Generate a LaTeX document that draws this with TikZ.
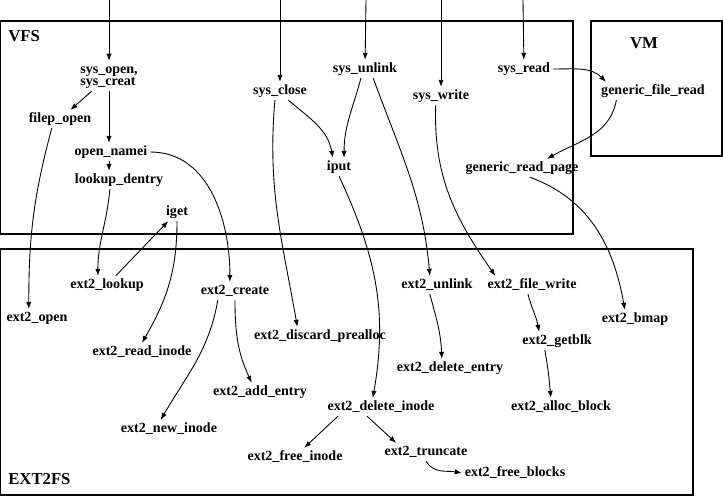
\documentclass[tikz,border=0pt]{standalone}
\usepackage{fontspec}
\setmainfont{Liberation Serif}
\usetikzlibrary{arrows.meta}

\begin{document}
\begin{tikzpicture}[x=0.02cm, y=-0.02cm,
  fn/.style={font=\bfseries\fontsize{8}{7}\selectfont, inner sep=1.5pt, text height=5.5pt, text depth=1.5pt},
  area/.style={font=\bfseries\fontsize{9.5}{11}\selectfont, inner sep=0pt},
  frame/.style={line width=0.6pt},
  call/.style={-{Latex[length=4pt,width=3pt]}, line width=0.5pt}]
\useasboundingbox (0,0) rectangle (723,496);
% subsystem frames
\draw[frame] (0.5,21) rectangle (573,234);
\draw[frame] (591,21) rectangle (722,156);
\draw[frame] (0.5,249) rectangle (693,495);
\node[area, anchor=west] (vfs) at (8,36) {VFS};
\node[area] (vm) at (644,43) {VM};
\node[area, anchor=west] (ext2fs) at (8,479) {EXT2FS};

% system calls
\node[fn, align=left, text height=12.5pt] (sysopen) at (109,76) {sys\_open,\\sys\_creat};
\node[fn] (sysclose) at (280,91) {sys\_close};
\node[fn] (sysunlink) at (365,69) {sys\_unlink};
\node[fn] (syswrite) at (441,96) {sys\_write};
\node[fn] (sysread) at (524,69) {sys\_read};
\coordinate (inopen) at (109,0);
\coordinate (inclose) at (280,0);
\coordinate (inunlink) at (366,0);
\coordinate (inwrite) at (441,0);
\coordinate (inread) at (523,0);

% VFS layer
\node[fn] (filepopen) at (60,119) {filep\_open};
\node[fn] (opennamei) at (111,152) {open\_namei};
\node[fn] (lookupdentry) at (119,180) {lookup\_dentry};
\node[fn] (iget) at (177,212) {iget};
\node[fn] (iput) at (339,167) {iput};
\node[fn] (genericreadpage) at (522,168) {generic\_read\_page};

% VM
\node[fn] (genericfileread) at (653,91) {generic\_file\_read};

% ext2 layer
\node[fn] (ext2open) at (37,318) {ext2\_open};
\node[fn] (ext2lookup) at (107,285) {ext2\_lookup};
\node[fn] (ext2create) at (235,291) {ext2\_create};
\node[fn] (ext2readinode) at (142,352) {ext2\_read\_inode};
\node[fn] (ext2newinode) at (169,429) {ext2\_new\_inode};
\node[fn] (ext2addentry) at (260,392) {ext2\_add\_entry};
\node[fn] (ext2discardprealloc) at (320,336) {ext2\_discard\_prealloc};
\node[fn] (ext2unlink) at (437,285) {ext2\_unlink};
\node[fn] (ext2deleteentry) at (450,368) {ext2\_delete\_entry};
\node[fn] (ext2deleteinode) at (381,407) {ext2\_delete\_inode};
\node[fn] (ext2freeinode) at (295,457) {ext2\_free\_inode};
\node[fn] (ext2truncate) at (426,452) {ext2\_truncate};
\node[fn] (ext2freeblocks) at (515,473) {ext2\_free\_blocks};
\node[fn] (ext2filewrite) at (532,285) {ext2\_file\_write};
\node[fn] (ext2bmap) at (635,319) {ext2\_bmap};
\node[fn] (ext2getblk) at (557,341) {ext2\_getblk};
\node[fn] (ext2allocblock) at (561,407) {ext2\_alloc\_block};

% entry points
\draw[call] (inopen) -- (sysopen);
\draw[call] (inclose) -- (sysclose);
\draw[call] (inunlink) -- (sysunlink);
\draw[call] (inwrite) -- (syswrite);
\draw[call] (inread) -- (sysread);

% calls
\draw[call] (sysopen) -- (filepopen);
\draw[call] (sysopen.south) -- (sysopen.south |- opennamei.north);
\draw[call] (opennamei.south -| sysopen.south) -- (lookupdentry.north -| sysopen.south);
\draw[call] (opennamei.east) to[out=0, in=90] (ext2create.119);
\draw[call] (filepopen.228) to[out=-105, in=90] (ext2open.132);
\draw[call] (lookupdentry.225) to[out=-95, in=90] (ext2lookup.135);
\draw[call] (ext2lookup) -- (iget);
\draw[call] (iget.south) to[out=-90, in=60] (ext2readinode.north);
\draw[call] (sysclose.241) to[out=-95, in=100] (ext2discardprealloc.158);
\draw[call] (sysclose.-48) to[out=-40, in=100] (iput.124);
\draw[call] (sysunlink.246) to[out=-105, in=90] (iput.61);
\draw[call] (sysunlink.-48) to[out=-70, in=95] (ext2unlink.128);
\draw[call] (iput.south) to[out=-65, in=80] (ext2deleteinode.132);
\draw[call] (syswrite.240) to[out=-92, in=125] (ext2filewrite.166);
\draw[call] (sysread.east) to[out=0, in=135] (genericfileread.169);
\draw[call] (genericfileread.194) to[out=-100, in=30] (genericreadpage.20);
\draw[call] (genericreadpage.-50) to[out=-20, in=100] (ext2bmap.138);
\draw[call] (ext2filewrite.246) to[out=-75, in=100] (ext2getblk.153);
\draw[call] (ext2getblk.217) to[out=-80, in=95] (ext2allocblock.138);
\draw[call] (ext2unlink.232) to[out=-75, in=92] (ext2deleteentry.132);
\draw[call] (ext2create.208) to[out=-100, in=60] (ext2newinode.132);
\draw[call] (ext2create.south) to[out=-90, in=115] (ext2addentry.132);
\draw[call] (ext2deleteinode.192) -- (ext2freeinode.45);
\draw[call] (ext2deleteinode.213) -- (ext2truncate.163);
\draw[call] (ext2truncate.south) to[out=-60, in=170] (ext2freeblocks.west);
\end{tikzpicture}
\end{document}
